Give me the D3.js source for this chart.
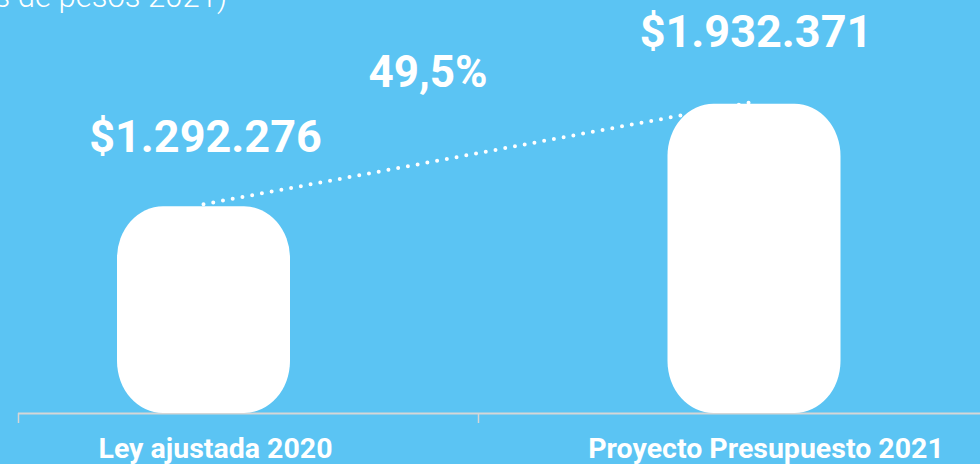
<!DOCTYPE html>
<html>
<head>
<meta charset="utf-8">
<script src="https://cdn.jsdelivr.net/npm/d3@7"></script>
<style>
  html, body { margin: 0; padding: 0; background: #5bc4f3; }
  svg { display: block; }
</style>
</head>
<body>
<div id="chartCanvas"></div>
<script>
// data
const categories = ["Ley ajustada 2020", "Proyecto Presupuesto 2021"];
const values = [1292276, 1932371];
const valueLabels = ["$1.292.276", "$1.932.371"];
const changeLabel = "49,5%";
const subtitle = "(en millones de pesos 2021)";

const width = 980, height = 464;
const baseY = 413;

const svg = d3.select("#chartCanvas").append("svg")
    .attr("width", width)
    .attr("height", height);

svg.append("rect")
    .attr("width", width)
    .attr("height", height)
    .attr("fill", "#5bc4f3");

// scales
const x = d3.scalePoint()
    .domain(categories)
    .range([203.5, 754]);

const xAxisScale = d3.scaleBand()
    .domain(categories)
    .range([18, 938]);

const y = d3.scaleLinear()
    .domain([0, 2000000])
    .range([baseY, 93]);

const barW = 173;

// subtitle, mostly cut off at top (as in the source image)
svg.append("text")
    .attr("x", 227)
    .attr("y", 7)
    .attr("text-anchor", "end")
    .attr("fill", "#fff")
    .style("font-family", "Roboto")
    .style("font-weight", 300)
    .style("font-size", "31px")
    .text(subtitle);

// axis
svg.append("line")
    .attr("x1", 18).attr("x2", width)
    .attr("y1", baseY + 0.5).attr("y2", baseY + 0.5)
    .attr("stroke", "#d6d6d6")
    .attr("stroke-width", 2);

svg.selectAll(".tick")
    .data(categories)
    .enter().append("line")
    .attr("class", "tick")
    .attr("x1", d => xAxisScale(d) + 0.5)
    .attr("x2", d => xAxisScale(d) + 0.5)
    .attr("y1", baseY)
    .attr("y2", baseY + 10)
    .attr("stroke", "#d6d6d6")
    .attr("stroke-width", 1.5);

// dotted connector between bar tops
svg.append("line")
    .attr("x1", x(categories[0])).attr("y1", y(values[0]) - 2)
    .attr("x2", x(categories[1])).attr("y2", y(values[1]) - 2)
    .attr("stroke", "#fff")
    .attr("stroke-width", 4)
    .attr("stroke-linecap", "round")
    .attr("stroke-dasharray", "0,9.9");

// bars
svg.selectAll(".bar")
    .data(values)
    .enter().append("rect")
    .attr("class", "bar")
    .attr("x", (d, i) => x(categories[i]) - barW / 2)
    .attr("y", d => y(d))
    .attr("width", barW)
    .attr("height", d => baseY - y(d))
    .attr("rx", 46)
    .attr("ry", 52)
    .attr("fill", "#fff");

// value labels
svg.selectAll(".val")
    .data(valueLabels)
    .enter().append("text")
    .attr("class", "val")
    .attr("x", (d, i) => x(categories[i]) + 2)
    .attr("y", (d, i) => y(values[i]) - (i ? 57 : 54))
    .attr("text-anchor", "middle")
    .attr("fill", "#fff")
    .style("font-family", "Roboto")
    .style("font-weight", 700)
    .style("font-size", "45px")
    .text(d => d);

// change label
svg.append("text")
    .attr("x", 428)
    .attr("y", 87)
    .attr("text-anchor", "middle")
    .attr("fill", "#fff")
    .style("font-family", "Roboto")
    .style("font-weight", 700)
    .style("font-size", "44px")
    .text(changeLabel);

// category labels
svg.selectAll(".cat")
    .data(categories)
    .enter().append("text")
    .attr("class", "cat")
    .attr("x", d => x(d) + 12)
    .attr("y", 458)
    .attr("text-anchor", "middle")
    .attr("fill", "#fff")
    .style("font-family", "Roboto")
    .style("font-weight", 700)
    .style("font-size", "28.5px")
    .text(d => d);
</script>
</body>
</html>
